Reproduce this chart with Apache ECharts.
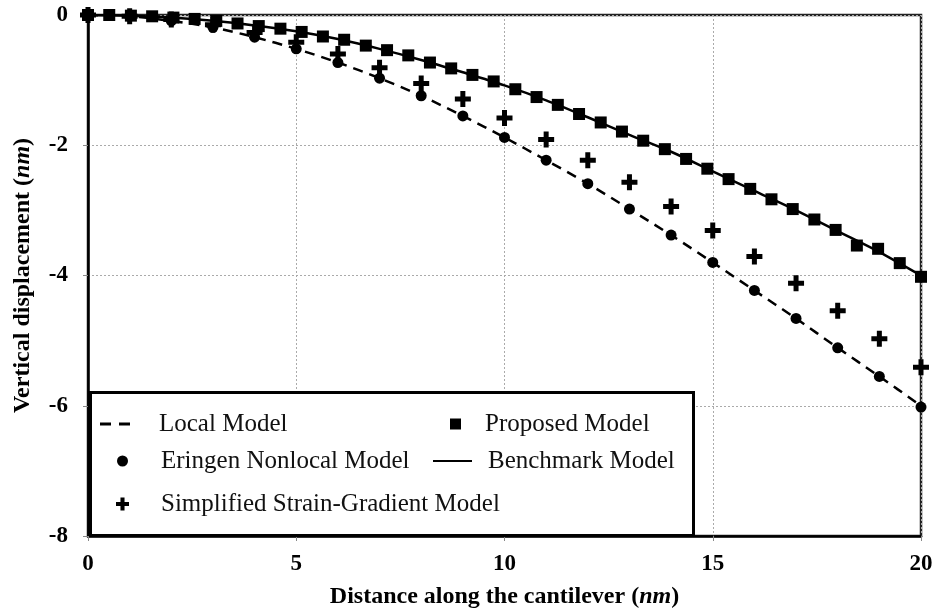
<!DOCTYPE html>
<html><head><meta charset="utf-8">
<script src="https://cdn.jsdelivr.net/npm/echarts@6/dist/echarts.min.js"></script>
<style>html,body{margin:0;padding:0;background:#fff}#c{width:937px;height:616px}</style>
</head><body><div id="c"></div>
<script>
// x positions (nm)
const intX = [0,1,2,3,4,5,6,7,8,9,10,11,12,13,14,15,16,17,18,19,20];
const localY = [0,-0.02,-0.09,-0.19,-0.34,-0.52,-0.73,-0.97,-1.24,-1.55,-1.88,-2.23,-2.59,-2.98,-3.38,-3.80,-4.23,-4.66,-5.11,-5.55,-6.00];
const eringenY = [0,-0.02,-0.09,-0.19,-0.34,-0.52,-0.73,-0.97,-1.24,-1.55,-1.88,-2.23,-2.59,-2.98,-3.38,-3.80,-4.23,-4.66,-5.11,-5.55,-6.02];
const strainY = [0,-0.02,-0.07,-0.15,-0.27,-0.42,-0.60,-0.81,-1.05,-1.29,-1.58,-1.91,-2.23,-2.57,-2.94,-3.31,-3.71,-4.12,-4.54,-4.97,-5.41];
const proposedX = [0,0.51,1.03,1.54,2.05,2.56,3.08,3.59,4.1,4.62,5.13,5.64,6.15,6.67,7.18,7.69,8.21,8.72,9.23,9.74,10.26,10.77,11.28,11.79,12.31,12.82,13.33,13.85,14.36,14.87,15.38,15.9,16.41,16.92,17.44,17.95,18.46,18.97,19.49,20];
const proposedY = [0,0,-0.01,-0.02,-0.04,-0.06,-0.09,-0.13,-0.17,-0.21,-0.26,-0.33,-0.38,-0.47,-0.54,-0.62,-0.73,-0.82,-0.92,-1.02,-1.14,-1.26,-1.38,-1.52,-1.65,-1.79,-1.93,-2.06,-2.21,-2.36,-2.52,-2.67,-2.83,-2.98,-3.14,-3.30,-3.54,-3.59,-3.81,-4.02];
const benchmarkY = [0,-0.01,-0.04,-0.09,-0.16,-0.25,-0.37,-0.52,-0.69,-0.88,-1.08,-1.31,-1.57,-1.84,-2.10,-2.40,-2.70,-3.00,-3.32,-3.64,-4.00];
const seriesNames = ['Local Model','Eringen Nonlocal Model','Simplified Strain-Gradient Model','Proposed Model','Benchmark Model'];

const pair = (xs, ys) => xs.map((x, i) => [x, ys[i]]);
const FONT = '"Liberation Serif", "Times New Roman", serif';
const PLUS = 'path://M5.5,0H10.5V5.5H16V10.5H10.5V16H5.5V10.5H0V5.5H5.5Z';
const DASH_ICON = 'path://M0,0H11V3H0Z M19,0H30V3H19Z';

const chart = echarts.init(document.getElementById('c'));
const legendText = (pad) => ({ fontFamily: FONT, fontSize: 25, color: '#111', lineHeight: 28, padding: [0, 0, 0, pad] });
const mkLegend = (name, icon, left, cy, w, h, pad) => ({
  show: true, selectedMode: false, padding: 0, left: left, top: cy - 14,
  itemWidth: w, itemHeight: h, data: [{ name: name, icon: icon }], textStyle: legendText(pad), z: 10,
  itemStyle: { color: '#000', opacity: 1 }
});

chart.setOption({
  animation: false,
  backgroundColor: '#fff',
  grid: { left: 88, right: 16, top: 15, bottom: 80, show: true, borderColor: '#222', borderWidth: 2.5, backgroundColor: 'transparent' },
  xAxis: {
    type: 'value', min: 0, max: 20, interval: 5,
    name: 'Distance along the cantilever ({i|nm})', nameLocation: 'middle', nameGap: 49,
    nameTextStyle: { fontFamily: FONT, fontSize: 24, fontWeight: 'bold', color: '#000',
      rich: { i: { fontFamily: FONT, fontSize: 24, fontWeight: 'bold', fontStyle: 'italic', color: '#000' } } },
    axisLine: { onZero: false, lineStyle: { color: '#000', width: 2.5 } },
    axisTick: { show: true, length: 5, lineStyle: { color: '#888' } },
    axisLabel: { fontFamily: FONT, fontSize: 23, fontWeight: 'bold', color: '#000', margin: 17 },
    splitLine: { show: true, lineStyle: { color: '#aaa', type: [2, 2], width: 1 } }
  },
  yAxis: {
    type: 'value', min: -8, max: 0, interval: 2,
    name: 'Vertical displacement ({i|nm})', nameLocation: 'middle', nameGap: 53,
    nameTextStyle: { fontFamily: FONT, fontSize: 24, fontWeight: 'bold', color: '#000',
      rich: { i: { fontFamily: FONT, fontSize: 24, fontWeight: 'bold', fontStyle: 'italic', color: '#000' } } },
    axisLine: { onZero: false, lineStyle: { color: '#000', width: 2.5 } },
    axisTick: { show: true, length: 5, lineStyle: { color: '#888' } },
    axisLabel: { fontFamily: FONT, fontSize: 23, fontWeight: 'bold', color: '#000', margin: 20 },
    splitLine: { show: true, lineStyle: { color: '#aaa', type: [2, 2], width: 1 } }
  },
  graphic: [{
    type: 'rect', left: 89, top: 391, z: 5,
    shape: { width: 603, height: 143 },
    style: { fill: '#fff', stroke: '#000', lineWidth: 3 }
  }],
  legend: [
    mkLegend(seriesNames[0], DASH_ICON, 100, 424, 30, 3, 24),
    mkLegend(seriesNames[1], 'circle', 117, 461, 11, 11, 28),
    mkLegend(seriesNames[2], PLUS, 116, 504, 13, 13, 27),
    mkLegend(seriesNames[3], 'rect', 450, 424, 11, 11, 19),
    mkLegend(seriesNames[4], 'rect', 433, 461, 39, 2, 11)
  ],
  series: [
    { name: seriesNames[0], type: 'line', data: pair(intX, localY), symbol: 'none', smooth: 0.3, z: 2,
      lineStyle: { color: '#000', width: 2.5, type: [10, 7] }, itemStyle: { color: '#000' } },
    { name: seriesNames[4], type: 'line', data: pair(intX, benchmarkY), symbol: 'none', smooth: 0.3, z: 2,
      lineStyle: { color: '#000', width: 2.5 }, itemStyle: { color: '#000' } },
    { name: seriesNames[1], type: 'scatter', data: pair(intX, eringenY), symbol: 'circle', symbolSize: 11, z: 3,
      itemStyle: { color: '#000', opacity: 1 } },
    { name: seriesNames[2], type: 'scatter', data: pair(intX, strainY), symbol: PLUS, symbolSize: 16, z: 3,
      itemStyle: { color: '#000', opacity: 1 } },
    { name: seriesNames[3], type: 'scatter', data: pair(proposedX, proposedY), symbol: 'rect', symbolSize: 12, z: 4,
      itemStyle: { color: '#000', opacity: 1 } }
  ]
});
</script>
</body></html>
